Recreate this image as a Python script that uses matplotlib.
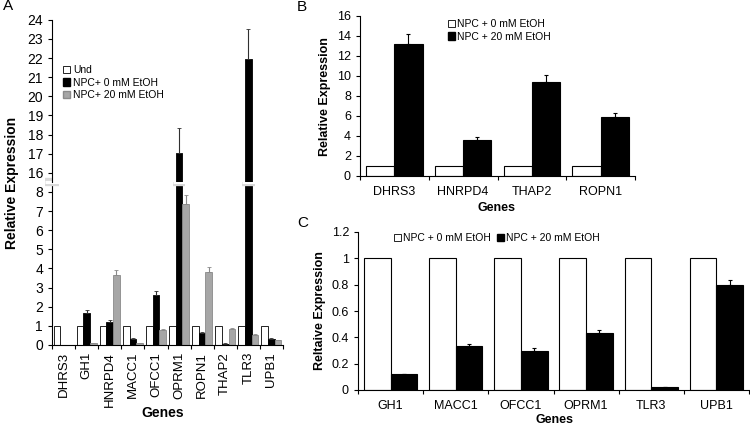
import numpy as np
import matplotlib
matplotlib.use("Agg")
import matplotlib.pyplot as plt
from matplotlib.patches import Patch
import matplotlib.transforms as mtransforms

plt.rcParams["font.family"] = ["Liberation Sans", "DejaVu Sans"]

# panel A
genes_a = ["DHRS3", "GH1", "HNRPD4", "MACC1", "OFCC1", "OPRM1", "ROPN1", "THAP2", "TLR3", "UPB1"]
und_a = [1, 1, 1, 1, 1, 1, 1, 1, 1, 1]
npc0_a = [0.01, 1.69, 1.19, 0.30, 2.60, 17.05, 0.63, 0.07, 21.95, 0.33]
npc0_err_a = [0.0, 0.14, 0.11, 0.05, 0.24, 1.30, 0.06, 0.02, 1.57, 0.04]
npc20_a = [0.02, 0.10, 3.66, 0.10, 0.78, 7.36, 3.80, 0.84, 0.54, 0.25]
npc20_err_a = [0.0, 0.01, 0.26, 0.01, 0.05, 0.48, 0.29, 0.05, 0.03, 0.02]
labels_a = ["Und", "NPC+ 0 mM EtOH", "NPC+ 20 mM EtOH"]

# panel B
genes_b = ["DHRS3", "HNRPD4", "THAP2", "ROPN1"]
npc0_b = [1, 1, 1, 1]
npc20_b = [13.2, 3.6, 9.4, 5.9]
npc20_err_b = [1.0, 0.3, 0.7, 0.4]

# panel C
genes_c = ["GH1", "MACC1", "OFCC1", "OPRM1", "TLR3", "UPB1"]
npc0_c = [1, 1, 1, 1, 1, 1]
npc20_c = [0.12, 0.333, 0.298, 0.434, 0.023, 0.798]
npc20_err_c = [0.004, 0.015, 0.018, 0.02, 0.0, 0.04]
labels_bc = ["NPC + 0 mM EtOH", "NPC + 20 mM EtOH"]

GRAY = "#a6a6a6"
GRAY_EDGE = "#8a8a8a"
W, H = 750, 429


def fig_box(left, top, right, bottom):
    return [left / W, 1 - bottom / H, (right - left) / W, (bottom - top) / H]


def style_axis(ax, n):
    for s in ["top", "right"]:
        ax.spines[s].set_visible(False)
    ax.spines["left"].set_linewidth(0.8)
    ax.spines["bottom"].set_linewidth(0.8)
    ax.set_xlim(-0.5, n - 0.5)
    ax.set_xticks(np.arange(n + 1) - 0.5)
    ax.set_xticklabels([])
    ax.tick_params(axis="x", which="major", length=3, width=0.8)
    ax.tick_params(axis="y", length=3, width=0.8)
    ax.tick_params(axis="x", which="minor", length=0)


fig = plt.figure(figsize=(7.5, 4.29), dpi=100)

# ---- A: broken axis ----
ax_lo = fig.add_axes(fig_box(52, 182.4, 283, 345))
ax_hi = fig.add_axes(fig_box(52, 19.8, 283, 182.4))
xa = np.arange(len(genes_a))
wa = 0.29
for ax in (ax_lo, ax_hi):
    ax.bar(xa - wa, und_a, wa, color="white", edgecolor="black", linewidth=0.6)
    ax.bar(xa, npc0_a, wa, color="black", edgecolor="black", linewidth=0.6,
           yerr=[np.zeros(len(xa)), npc0_err_a], ecolor="#303030",
           error_kw=dict(elinewidth=0.8, capsize=1.5, capthick=0.6))
    ax.bar(xa + wa, npc20_a, wa, color=GRAY, edgecolor=GRAY_EDGE, linewidth=0.6,
           yerr=[np.zeros(len(xa)), npc20_err_a], ecolor=GRAY_EDGE,
           error_kw=dict(elinewidth=0.8, capsize=1.5, capthick=0.6))
    style_axis(ax, len(genes_a))
ax_lo.set_ylim(0, 8.5)
ax_lo.set_yticks(range(0, 9))
ax_hi.set_ylim(15.5, 24)
ax_hi.set_yticks(range(16, 25))
ax_hi.spines["bottom"].set_visible(False)
ax_hi.tick_params(axis="x", which="both", length=0)
for ax in (ax_lo, ax_hi):
    ax.tick_params(axis="y", labelsize=10)
ax_lo.set_xticks(xa, genes_a, minor=True)
ax_lo.tick_params(axis="x", which="minor", labelsize=9.5, labelrotation=90, pad=5)

# break marks across the axis and the tall bars
trans = mtransforms.blended_transform_factory(ax_lo.transData, ax_lo.transAxes)
for xc in [-0.5, xa[5], xa[8]]:
    half = 0.3 if xc == -0.5 else 0.27
    for lw, col in [(6, "#d9d9d9"), (2.2, "white")]:
        ax_lo.plot([xc - half, xc + half], [1, 1], transform=trans, color=col,
                   lw=lw, solid_capstyle="butt", clip_on=False, zorder=5)

fig.legend([Patch(facecolor="white", edgecolor="black", linewidth=0.6),
            Patch(facecolor="black", edgecolor="black"),
            Patch(facecolor=GRAY, edgecolor=GRAY_EDGE)],
           labels_a, loc="upper left", bbox_to_anchor=(63 / W, 1 - 65 / H),
           frameon=False, fontsize=7.5, handlelength=0.7, handleheight=0.7,
           handletextpad=0.25, labelspacing=0.25, borderpad=0, borderaxespad=0)

fig.text(12 / W, 1 - 183 / H, "Relative Expression", rotation=90, ha="center",
         va="center", fontsize=10, fontweight="bold")
fig.text(163 / W, 1 - 413 / H, "Genes", ha="center", va="center",
         fontsize=10, fontweight="bold")
fig.text(3 / W, 1 - 6 / H, "A", ha="left", va="center", fontsize=11)

# ---- B ----
ax_b = fig.add_axes(fig_box(360, 16, 635, 176))
xb = np.arange(len(genes_b))
wb = 0.41
ax_b.bar(xb - wb / 2, npc0_b, wb, color="white", edgecolor="black", linewidth=0.8)
ax_b.bar(xb + wb / 2, npc20_b, wb, color="black", edgecolor="black", linewidth=0.8,
         yerr=[np.zeros(len(xb)), npc20_err_b], ecolor="black",
         error_kw=dict(elinewidth=0.8, capsize=1.5, capthick=0.8))
style_axis(ax_b, len(genes_b))
ax_b.set_ylim(0, 16)
ax_b.set_yticks(range(0, 17, 2))
ax_b.tick_params(axis="y", labelsize=9)
ax_b.set_xticks(xb, genes_b, minor=True)
ax_b.tick_params(axis="x", which="minor", labelsize=9, pad=7)
ax_b.legend([Patch(facecolor="white", edgecolor="black", linewidth=0.6),
             Patch(facecolor="black", edgecolor="black")],
            labels_bc, loc="upper left", bbox_to_anchor=(448 / W, 1 - 19 / H),
            bbox_transform=fig.transFigure,
            frameon=False, fontsize=7.5, handlelength=0.7, handleheight=0.7,
            handletextpad=0.15, labelspacing=0.25, borderpad=0, borderaxespad=0)
fig.text(325 / W, 1 - 97 / H, "Relative Expression", rotation=90, ha="center",
         va="center", fontsize=9, fontweight="bold")
fig.text(497 / W, 1 - 208 / H, "Genes", ha="center", va="center",
         fontsize=9, fontweight="bold")
fig.text(297 / W, 1 - 7 / H, "B", ha="left", va="center", fontsize=11)

# ---- C ----
ax_c = fig.add_axes(fig_box(358, 232, 749, 390))
xc_ = np.arange(len(genes_c))
wc = 0.41
ax_c.bar(xc_ - wc / 2, npc0_c, wc, color="white", edgecolor="black", linewidth=0.8)
ax_c.bar(xc_ + wc / 2, npc20_c, wc, color="black", edgecolor="black", linewidth=0.8,
         yerr=[np.zeros(len(xc_)), npc20_err_c], ecolor="black",
         error_kw=dict(elinewidth=0.8, capsize=1.5, capthick=0.8))
style_axis(ax_c, len(genes_c))
ax_c.set_ylim(0, 1.2)
ax_c.set_yticks([0, 0.2, 0.4, 0.6, 0.8, 1.0, 1.2], ["0", "0.2", "0.4", "0.6", "0.8", "1", "1.2"])
ax_c.tick_params(axis="y", labelsize=9)
ax_c.set_xticks(xc_, genes_c, minor=True)
ax_c.tick_params(axis="x", which="minor", labelsize=9, pad=7)
ax_c.legend([Patch(facecolor="white", edgecolor="black", linewidth=0.6),
             Patch(facecolor="black", edgecolor="black")],
            labels_bc, loc="upper left", ncol=2, bbox_to_anchor=(394 / W, 1 - 233 / H),
            bbox_transform=fig.transFigure,
            frameon=False, fontsize=7.5, handlelength=0.7, handleheight=0.7,
            handletextpad=0.15, columnspacing=0.6, borderpad=0, borderaxespad=0)
fig.text(320 / W, 1 - 311 / H, "Reltaive Expression", rotation=90, ha="center",
         va="center", fontsize=9, fontweight="bold")
fig.text(555 / W, 1 - 420 / H, "Genes", ha="center", va="center",
         fontsize=9, fontweight="bold")
fig.text(297 / W, 1 - 223 / H, "C", ha="left", va="center", fontsize=11)

fig.savefig("out.png", dpi=100)
